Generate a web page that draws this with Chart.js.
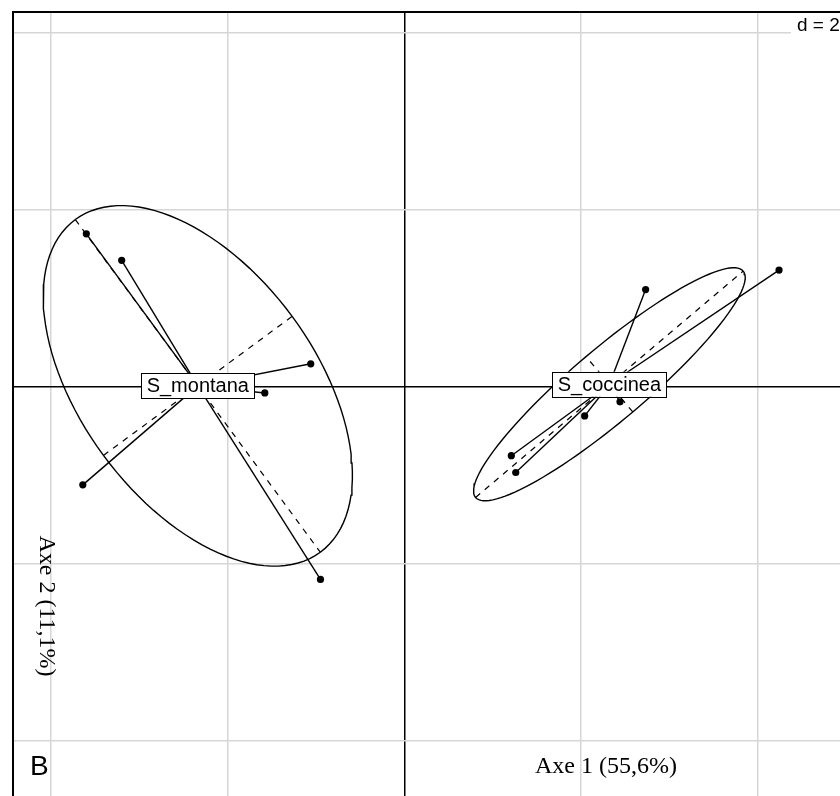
<!DOCTYPE html>
<html lang="fr">
<head>
<meta charset="UTF-8">
<title>s.class - Axe 1 / Axe 2</title>
<script src="https://cdn.jsdelivr.net/npm/chart.js@4"></script>
<style>
  body { margin: 0; background: #fff; overflow: hidden; }
  #wrap { width: 840px; height: 796px; overflow: hidden; }
</style>
</head>
<body>
<div id="wrap"><canvas id="c" width="844" height="800"></canvas></div>
<script>
// coordonnées des individus, unité = 1
const groupNames = ['S_montana', 'S_coccinea'];
const montanaX = [-3.60, -3.20, -1.06, -1.58, -3.64, -0.95];
const montanaY = [1.73, 1.43, 0.26, -0.07, -1.11, -2.18];
const coccineaX = [4.24, 2.73, 2.44, 2.04, 1.21, 1.26];
const coccineaY = [1.32, 1.10, -0.17, -0.33, -0.78, -0.97];
const gridTicks = [-4, -2, 0, 2, 4];
const axisTitles = ['Axe 1 (55,6%)', 'Axe 2 (11,1%)'];
const scaleLabel = 'd = 2';
const panelLetter = 'B';
const cellipse = 1.5;

// statistiques de classe comme ade4::s.class (moyenne, covariance, ellipse)
function classStats(xs, ys) {
    const n = xs.length;
    const mx = xs.reduce((a, b) => a + b, 0) / n;
    const my = ys.reduce((a, b) => a + b, 0) / n;
    let vx = 0, vy = 0, cxy = 0;
    for (let i = 0; i < n; i++) {
        vx += (xs[i] - mx) ** 2;
        vy += (ys[i] - my) ** 2;
        cxy += (xs[i] - mx) * (ys[i] - my);
    }
    vx /= n; vy /= n; cxy /= n;
    const tr = vx + vy, det = vx * vy - cxy * cxy;
    const disc = Math.sqrt(Math.max(tr * tr / 4 - det, 0));
    const l1 = tr / 2 + disc, l2 = Math.max(tr / 2 - disc, 0);
    let v1x = l1 - vy, v1y = cxy;
    const nrm = Math.hypot(v1x, v1y) || 1;
    v1x /= nrm; v1y /= nrm;
    const v2x = -v1y, v2y = v1x;
    const a = cellipse * Math.sqrt(l1), b = cellipse * Math.sqrt(l2);
    const ellipse = [];
    for (let k = 0; k <= 120; k++) {
        const t = 2 * Math.PI * k / 120;
        ellipse.push({
            x: mx + a * Math.cos(t) * v1x + b * Math.sin(t) * v2x,
            y: my + a * Math.cos(t) * v1y + b * Math.sin(t) * v2y
        });
    }
    const major = [{x: mx - a * v1x, y: my - a * v1y}, {x: mx + a * v1x, y: my + a * v1y}];
    const minor = [{x: mx - b * v2x, y: my - b * v2y}, {x: mx + b * v2x, y: my + b * v2y}];
    return { mx, my, ellipse, major, minor };
}

const groupData = [[montanaX, montanaY], [coccineaX, coccineaY]];
const stats = groupData.map(g => classStats(g[0], g[1]));

const datasets = [];
// points
groupData.forEach(g => {
    datasets.push({
        data: g[0].map((x, i) => ({x: x, y: g[1][i]})),
        pointRadius: 3.6,
        pointBackgroundColor: '#000',
        pointBorderWidth: 0,
        showLine: false
    });
});
// étoiles (segments centre -> individu)
groupData.forEach((g, gi) => {
    g[0].forEach((x, i) => {
        datasets.push({
            data: [{x: stats[gi].mx, y: stats[gi].my}, {x: x, y: g[1][i]}],
            showLine: true,
            borderColor: '#000',
            borderWidth: 1.4,
            pointRadius: 0
        });
    });
});
// ellipses et axes
stats.forEach(s => {
    datasets.push({ data: s.ellipse, showLine: true, borderColor: '#000', borderWidth: 1.4, pointRadius: 0, tension: 0 });
    datasets.push({ data: s.major, showLine: true, borderColor: '#000', borderWidth: 1.2, borderDash: [6, 6], pointRadius: 0 });
    datasets.push({ data: s.minor, showLine: true, borderColor: '#000', borderWidth: 1.2, borderDash: [6, 6], pointRadius: 0 });
});

const decorPlugin = {
    id: 'decor',
    afterDatasetsDraw(chart) {
        const ctx = chart.ctx;
        const xs = chart.scales.x, ys = chart.scales.y;
        const area = chart.chartArea;
        ctx.save();
        // étiquettes des classes
        ctx.font = '20px "Liberation Sans", Arial, sans-serif';
        ctx.textAlign = 'center';
        ctx.textBaseline = 'middle';
        stats.forEach((s, i) => {
            const px = xs.getPixelForValue(s.mx);
            const py = ys.getPixelForValue(s.my);
            const w = ctx.measureText(groupNames[i]).width + 11;
            const h = 25;
            ctx.fillStyle = '#fff';
            ctx.fillRect(px - w / 2, py - h / 2, w, h);
            ctx.strokeStyle = '#000';
            ctx.lineWidth = 1;
            ctx.strokeRect(Math.round(px - w / 2) + 0.5, Math.round(py - h / 2) + 0.5, Math.round(w), h);
            ctx.fillStyle = '#000';
            ctx.fillText(groupNames[i], px, py + 1);
        });
        // d = 2
        ctx.fillStyle = '#fff';
        ctx.fillRect(791, area.top, 60, 30);
        ctx.fillStyle = '#000';
        ctx.font = '19px "Liberation Sans", Arial, sans-serif';
        ctx.textAlign = 'left';
        ctx.fillText(scaleLabel, 797, 26);
        // lettre du panneau
        ctx.font = '28px "Liberation Sans", Arial, sans-serif';
        ctx.fillText(panelLetter, 30, 767);
        // titres des axes
        ctx.font = '24px "Liberation Serif", serif';
        ctx.textAlign = 'center';
        ctx.fillText(axisTitles[0], 606, 767);
        ctx.translate(46, 606);
        ctx.rotate(Math.PI / 2);
        ctx.fillText(axisTitles[1], 0, 0);
        ctx.restore();
        // cadre
        ctx.save();
        ctx.strokeStyle = '#000';
        ctx.lineWidth = 2;
        ctx.beginPath();
        ctx.moveTo(area.left, chart.height);
        ctx.lineTo(area.left, area.top);
        ctx.lineTo(chart.width, area.top);
        ctx.stroke();
        ctx.restore();
    }
};

const gridColor = c => (c.tick && c.tick.value === 0) ? '#000' : '#d6d6d6';

new Chart(document.getElementById('c'), {
    type: 'scatter',
    data: { datasets: datasets },
    options: {
        responsive: false,
        animation: false,
        events: [],
        layout: { padding: { left: 13, top: 12, right: 0, bottom: 0 } },
        plugins: { legend: { display: false }, tooltip: { enabled: false } },
        scales: {
            x: {
                type: 'linear', min: -4.43, max: 4.93,
                afterBuildTicks: s => { s.ticks = gridTicks.map(v => ({value: v})); },
                ticks: { display: false },
                grid: { color: gridColor, lineWidth: 1.5, drawTicks: false },
                border: { display: false }
            },
            y: {
                type: 'linear', min: -4.63, max: 4.24,
                afterBuildTicks: s => { s.ticks = gridTicks.map(v => ({value: v})); },
                ticks: { display: false },
                grid: { color: gridColor, lineWidth: 1.5, drawTicks: false },
                border: { display: false }
            }
        }
    },
    plugins: [decorPlugin]
});
</script>
</body>
</html>
